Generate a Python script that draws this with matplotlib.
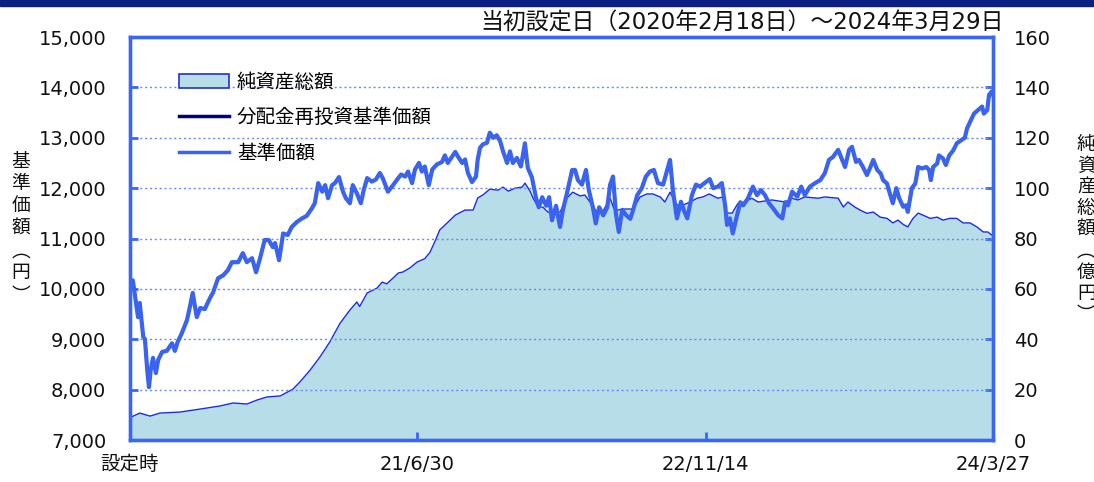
import numpy as np
import pandas as pd
import matplotlib
matplotlib.use("Agg")
import matplotlib.pyplot as plt
from matplotlib.patches import Rectangle, Patch
from matplotlib.lines import Line2D

plt.rcParams['font.family'] = ['DejaVu Sans', 'Noto Sans CJK JP']

# ── データ（設定日からの経過日数） ──
start_date = pd.Timestamp('2020-02-18')

nav_days = [0, 2, 5, 9, 14, 17, 23, 26, 30, 33, 36, 40, 45, 49, 56, 64, 73, 78, 83, 90,
            99, 104, 109, 116, 122, 130, 139, 144, 153, 162, 170, 177, 188, 196, 203, 212,
            219, 226, 234, 241, 248, 252, 259, 266, 274, 281, 290, 299, 307, 316, 321, 327,
            334, 339, 344, 351, 356, 363, 370, 375, 382, 387, 394, 401, 406, 412, 420, 427,
            434, 439, 448, 457, 464, 471, 478, 483, 490, 495, 502, 507, 512, 519, 525, 533,
            542, 547, 552, 559, 565, 570, 577, 582, 587, 594, 601, 604, 608, 613, 620, 625,
            631, 637, 643, 648, 655, 660, 665, 672, 679, 686, 691, 698, 705, 710, 716, 723,
            728, 733, 740, 747, 752, 759, 768, 773, 778, 785, 792, 797, 804, 809, 815, 822,
            829, 834, 839, 844, 849, 855, 862, 869, 874, 881, 889, 896, 903, 910, 917, 926,
            933, 938, 943, 950, 957, 962, 968, 976, 983, 990, 999, 1007, 1013, 1021, 1028,
            1034, 1037, 1042, 1047, 1054, 1060, 1065, 1073, 1082, 1089, 1096, 1103, 1110,
            1117, 1126, 1133, 1138, 1143, 1150, 1159, 1166, 1172, 1181, 1190, 1199, 1207,
            1214, 1221, 1230, 1235, 1242, 1249, 1254, 1261, 1266, 1273, 1280, 1285, 1291,
            1298, 1304, 1308, 1315, 1318, 1325, 1331, 1336, 1343, 1348, 1351, 1358, 1364,
            1369, 1376, 1383, 1388, 1391, 1395, 1402, 1405, 1412, 1417, 1423, 1430, 1436,
            1445, 1450, 1454, 1459, 1466, 1473, 1480, 1483, 1489, 1492, 1497, 1499]
nav = [10000, 10080, 10170, 9840, 9440, 9720, 9050, 9000, 8390, 8050, 8390, 8630, 8330, 8590,
       8750, 8770, 8920, 8770, 8950, 9120, 9380, 9640, 9920, 9440, 9620, 9600, 9820, 9920,
       10210, 10270, 10370, 10530, 10530, 10710, 10530, 10610, 10330, 10610, 10970, 10970,
       10830, 10910, 10570, 11100, 11070, 11230, 11330, 11400, 11450, 11600, 11700, 12100,
       11930, 12060, 11800, 12060, 12100, 12220, 11930, 11800, 11700, 12060, 11900, 11700,
       11960, 12200, 12130, 12170, 12300, 12200, 11930, 12060, 12170, 12270, 12230, 12330,
       12100, 12370, 12500, 12330, 12430, 12060, 12370, 12470, 12520, 12650, 12500, 12620,
       12720, 12620, 12500, 12570, 12300, 12120, 12230, 12570, 12800, 12870, 12900, 13100,
       13000, 13050, 12930, 12730, 12500, 12730, 12500, 12600, 12430, 12890, 12400, 12220,
       11820, 11620, 11820, 11650, 11820, 11360, 11650, 11230, 11570, 11900, 12360, 12360,
       12160, 12070, 12360, 11960, 11620, 11300, 11620, 11460, 11620, 12070, 12230, 11500,
       11130, 11570, 11460, 11390, 11570, 11860, 12000, 12230, 12330, 12360, 12100, 12070,
       12360, 12560, 11960, 11400, 11730, 11560, 11400, 11860, 12070, 12030, 12110, 12180,
       12000, 12030, 12100, 11630, 11270, 11400, 11100, 11440, 11720, 11660, 11790, 12030,
       11860, 11960, 11860, 11700, 11600, 11460, 11400, 11720, 11660, 11930, 11830, 12030,
       11860, 12030, 12100, 12160, 12300, 12560, 12620, 12760, 12620, 12420, 12760, 12820,
       12520, 12560, 12420, 12260, 12390, 12560, 12360, 12290, 12160, 12090, 11960, 11700,
       12000, 11800, 11630, 11660, 11530, 12000, 12090, 12420, 12390, 12420, 12360, 12160,
       12420, 12490, 12650, 12590, 12460, 12650, 12750, 12890, 12960, 13000, 13190, 13310,
       13480, 13550, 13620, 13480, 13550, 13850, 13920, 13850]
# 分配実績なしのため分配金再投資基準価額は基準価額と同じ
nav_reinvest = list(nav)

asset_days = [0, 2, 17, 35, 52, 87, 122, 156, 179, 203, 221, 238, 261, 283, 295, 313, 330,
              347, 365, 382, 394, 399, 412, 429, 438, 446, 457, 466, 474, 486, 499, 512, 521,
              530, 538, 551, 565, 582, 596, 604, 613, 625, 639, 648, 657, 669, 681, 686, 695,
              700, 709, 717, 726, 738, 747, 759, 769, 782, 790, 799, 811, 822, 834, 842, 855,
              874, 886, 898, 908, 921, 929, 938, 950, 961, 973, 985, 995, 1006, 1021, 1030,
              1035, 1046, 1056, 1068, 1080, 1091, 1115, 1138, 1150, 1160, 1172, 1195, 1207,
              1230, 1239, 1247, 1259, 1268, 1280, 1291, 1303, 1315, 1325, 1334, 1343, 1351,
              1360, 1369, 1377, 1390, 1402, 1412, 1424, 1436, 1447, 1459, 1471, 1482, 1490,
              1499]
net_assets = [8.8, 9.1, 10.7, 9.5, 10.7, 11.1, 12.3, 13.5, 14.7, 14.3, 15.9, 17.1, 17.5,
              20.2, 23.0, 27.8, 33.0, 38.9, 46.4, 51.6, 54.8, 53.0, 58.4, 60.3, 62.7, 62.0,
              64.3, 66.3, 66.7, 68.3, 70.7, 72.0, 74.5, 79.0, 83.4, 86.2, 89.3, 91.3, 91.3,
              96.1, 97.3, 99.6, 99.2, 100.4, 98.8, 100.0, 100.4, 102.0, 98.8, 96.1, 92.5,
              92.5, 90.5, 90.1, 90.5, 96.1, 98.4, 96.9, 97.3, 94.5, 90.5, 91.0, 96.0, 91.0,
              91.7, 91.7, 96.5, 97.7, 97.7, 96.5, 94.5, 98.4, 93.3, 93.3, 94.5, 96.0, 96.5,
              97.7, 96.0, 96.5, 90.1, 90.1, 94.0, 94.5, 96.0, 94.5, 95.3, 94.5, 96.0, 95.3,
              96.5, 96.0, 96.5, 96.0, 92.5, 94.5, 92.5, 91.3, 90.0, 90.5, 88.5, 88.0, 86.2,
              87.3, 85.6, 84.6, 88.0, 90.1, 89.3, 88.0, 88.5, 87.3, 88.0, 88.0, 86.2, 86.2,
              84.6, 82.6, 82.6, 81.0]

tick_dates = ['2020-02-18', '2021-06-30', '2022-11-14', '2024-03-27']
tick_labels = ['設定時', '21/6/30', '22/11/14', '24/3/27']

nav_dates = start_date + pd.to_timedelta(nav_days, unit='D')
asset_dates = start_date + pd.to_timedelta(asset_days, unit='D')

# ── 色 ──
spine_c = '#3b66f5'
grid_c = '#6a8af7'
fill_c = '#b7dde8'
edge_c = '#1a2de0'
nav_c = '#3a64f0'
navy_c = '#000080'

fig = plt.figure(figsize=(10.94, 4.82), dpi=100)
fig.patches.append(Rectangle((0, 0.987), 1, 0.013, transform=fig.transFigure,
                             color='#0a1f80', zorder=0))

ax2 = fig.add_axes([0.1188, 0.0871, 0.7889, 0.8361])  # 純資産（右軸）
ax = ax2.twinx()
ax.yaxis.tick_left()
ax.yaxis.set_label_position('left')
ax2.yaxis.tick_right()

ax2.fill_between(asset_dates, net_assets, 0, color=fill_c, lw=0)
ax2.plot(asset_dates, net_assets, color=edge_c, lw=1.0)
ax2.set_ylim(0, 160)
ax2.set_yticks(range(0, 161, 20))

ax.plot(nav_dates, nav_reinvest, color=navy_c, lw=2.0)
ax.plot(nav_dates, nav, color=nav_c, lw=3.0)
ax.set_ylim(7000, 15000)
ax.set_yticks(range(7000, 15001, 1000))
ax.yaxis.set_major_formatter(matplotlib.ticker.FuncFormatter(lambda v, p: f'{int(v):,}'))
for yv in range(8000, 15000, 1000):
    ax.axhline(yv, color=grid_c, lw=1.0, ls=(0, (1.5, 2)), zorder=0.5)

xt = pd.to_datetime(tick_dates)
ax2.set_xlim(start_date, pd.Timestamp('2024-03-27'))
ax2.set_xticks(xt)
ax2.set_xticklabels(tick_labels)

for a in (ax, ax2):
    for s in a.spines.values():
        s.set_color(spine_c)
        s.set_linewidth(2.4)
    a.tick_params(axis='both', direction='in', color=spine_c, width=2, length=6,
                  labelsize=14, labelcolor='#111111')
ax2.tick_params(axis='x', pad=11)
ax.tick_params(axis='y', pad=17)
ax2.tick_params(axis='y', pad=15)

handles = [Patch(facecolor=fill_c, edgecolor='#2233cc', lw=1.2),
           Line2D([], [], color=navy_c, lw=2.5),
           Line2D([], [], color=nav_c, lw=2.5)]
labels = ['純資産総額', '分配金再投資基準価額', '基準価額']
ax.legend(handles, labels, loc='upper left', bbox_to_anchor=(0.036, 0.955), frameon=False,
          fontsize=14, handlelength=2.6, handleheight=0.7, labelspacing=0.85,
          handletextpad=0.4)

fig.text(0.918, 0.952, '当初設定日（2020年2月18日）～2024年3月29日', ha='right', va='center',
         fontsize=16.5, color='#111111')

left_lbl = ['基', '準', '価', '額', '︵', '円', '︶']
fig.text(0.019, 0.685, '\n'.join(left_lbl), ha='center', va='top', fontsize=13.5,
         linespacing=1.22, color='#111111')
right_lbl = ['純', '資', '産', '総', '額', '︵', '億', '円', '︶']
fig.text(0.993, 0.72, '\n'.join(right_lbl), ha='center', va='top', fontsize=13.5,
         linespacing=1.15, color='#111111')

fig.savefig('out.png', dpi=100)
